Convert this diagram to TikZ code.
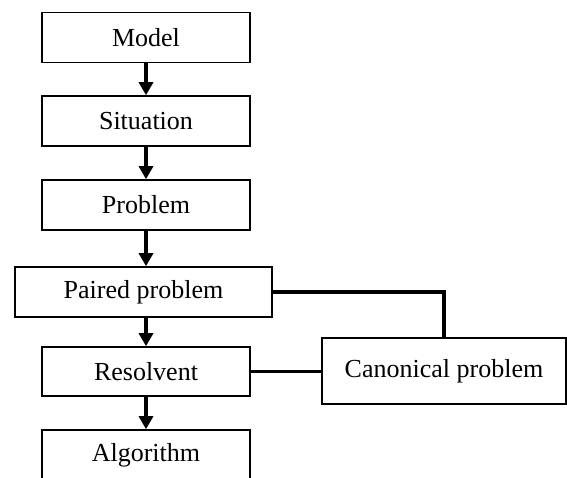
\documentclass[tikz,border=0pt]{standalone}
\usepackage{fontspec}
\setmainfont{Liberation Serif}
\usepackage{tikz}
\usetikzlibrary{arrows.meta}
\usetikzlibrary{positioning}
\tikzstyle{stage} = [rectangle, minimum width=208pt, minimum height=50pt, text centered, draw=black, line width=1.6pt, font=\fontsize{26}{31}\selectfont, inner sep=0pt]
\tikzstyle{arrow} = [line width=3.2pt,-{Triangle[length=13pt,width=14pt]}]
\tikzstyle{link} = [line width=3.2pt]

\begin{document}
\begin{tikzpicture}
    \clip (0,0) rectangle (567pt,-477pt);
    \useasboundingbox (0,0) rectangle (567pt,-477pt);
    \node(model)[stage] at (146pt,-37.5pt) {Model};
    \node(situation)[node distance=83.5pt, stage, below of=model] {Situation};
    \node(problem)[node distance=84pt, stage, below of=situation] {Problem};
    \node(paired)[node distance=87pt, stage, minimum width=257pt, below of=problem, xshift=-2.5pt] {Paired problem};
    \node(resolvent)[node distance=79.5pt, stage, minimum height=49pt, below of=paired, xshift=2.5pt] {Resolvent};
    \node(algorithm)[node distance=83.5pt, stage, below of=resolvent] {Algorithm};
    \node(canonical)[node distance=298pt, stage, minimum width=244pt, minimum height=66pt, right of=resolvent, yshift=0.5pt] {Canonical problem};
    %
    \draw[arrow](model) -- (situation);
    \draw[arrow](situation) -- (problem);
    \draw[arrow](problem.south) -- (problem.south |- paired.north);
    \draw[arrow](paired.south -| resolvent.north) -- (resolvent);
    \draw[arrow](resolvent) -- (algorithm);
    %
    \draw[link](paired.east) -| (canonical.north);
    \draw[link](resolvent.east) -- (resolvent.east -| canonical.west);
  \end{tikzpicture}
\end{document}
